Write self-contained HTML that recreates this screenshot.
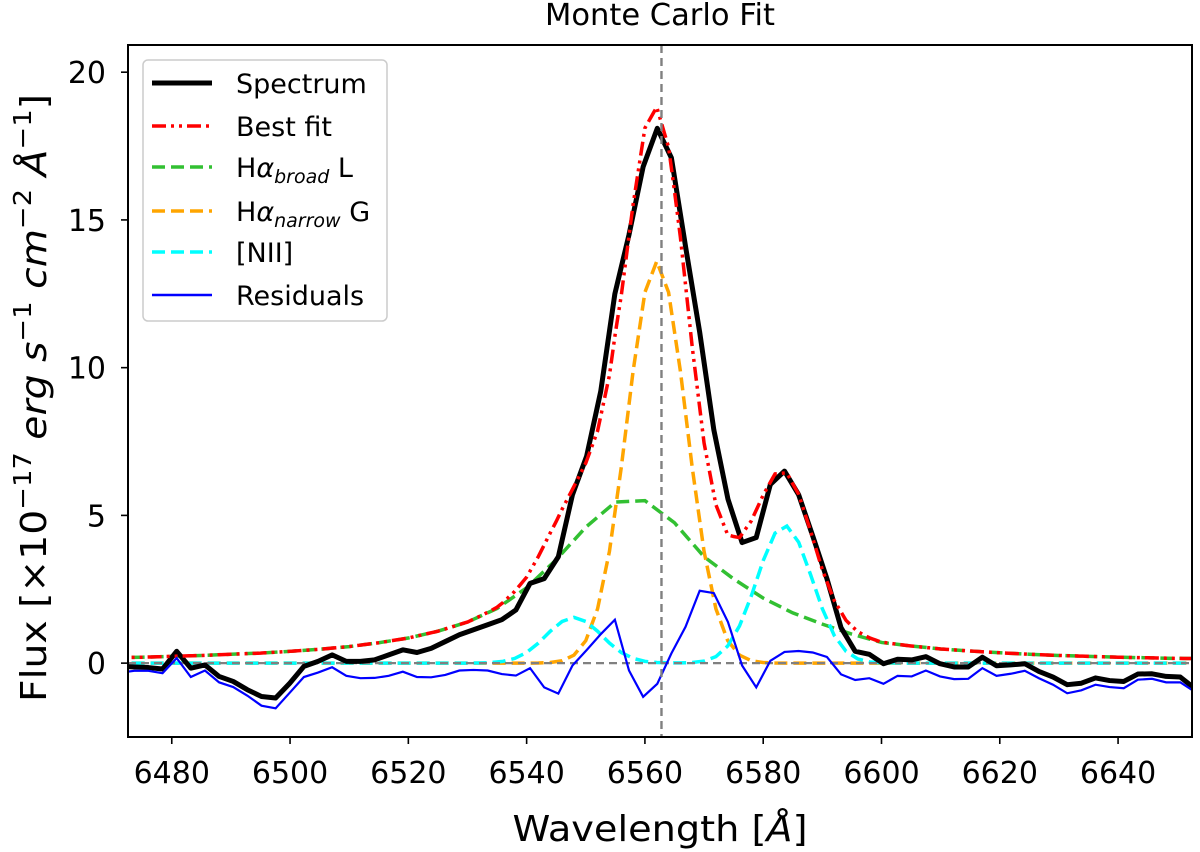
<!DOCTYPE html>
<html><head><meta charset="utf-8"><style>
html,body{margin:0;padding:0;background:#fff;}
svg{display:block;font-family:"DejaVu Sans","Liberation Sans",sans-serif;}
</style></head><body>
<svg id="chart" width="1200" height="852" viewBox="0 0 1200 852">
<text x="660" y="25" font-size="30" text-anchor="middle" textLength="230" lengthAdjust="spacingAndGlyphs">Monte Carlo Fit</text>
<defs><clipPath id="plotclip"><rect x="128" y="45" width="1064" height="692"/></clipPath></defs>
<g id="series" clip-path="url(#plotclip)"></g>
<rect x="128" y="45" width="1064" height="692" fill="none" stroke="#000" stroke-width="2"/>
<g id="xticks"></g>
<g id="yticks"></g>
<text x="660" y="841" font-size="36" text-anchor="middle" textLength="295" lengthAdjust="spacingAndGlyphs">Wavelength [<tspan font-style="italic">Å</tspan>]</text>
<text transform="translate(46,398) rotate(-90)" font-size="36" text-anchor="middle" textLength="608" lengthAdjust="spacingAndGlyphs">Flux [×10<tspan font-size="25" dy="-15">−17</tspan><tspan dy="15" font-style="italic"> erg s</tspan><tspan font-size="25" dy="-15">−1</tspan><tspan dy="15" font-style="italic"> cm</tspan><tspan font-size="25" dy="-15">−2</tspan><tspan dy="15" font-style="italic"> Å</tspan><tspan font-size="25" dy="-15">−1</tspan><tspan dy="15">]</tspan></text>
<g>
<rect x="143" y="60" width="244" height="261" rx="5" fill="#fff" fill-opacity="0.8" stroke="#ccc" stroke-width="1.5"/>
<g><line x1="152" y1="83" x2="212" y2="83" stroke="#000" stroke-width="5"/><text x="236" y="93" font-size="27">Spectrum</text></g>
<g><line x1="152" y1="126" x2="212" y2="126" stroke="#f00" stroke-width="3.5" stroke-dasharray="14,5,3,5,3,5"/><text x="236" y="136" font-size="27">Best fit</text></g>
<g><line x1="152" y1="167" x2="212" y2="167" stroke="#32c032" stroke-width="3.5" stroke-dasharray="13,6"/><text x="236" y="177" font-size="27">H<tspan font-style="italic">α</tspan><tspan font-size="19" font-style="italic" dy="6">broad</tspan><tspan dy="-6"> L</tspan></text></g>
<g><line x1="152" y1="211" x2="212" y2="211" stroke="#ffa500" stroke-width="3.5" stroke-dasharray="13,6"/><text x="236" y="221" font-size="27">H<tspan font-style="italic">α</tspan><tspan font-size="19" font-style="italic" dy="6">narrow</tspan><tspan dy="-6"> G</tspan></text></g>
<g><line x1="152" y1="252" x2="212" y2="252" stroke="#00ffff" stroke-width="3.5" stroke-dasharray="13,6"/><text x="236" y="262" font-size="27">[NII]</text></g>
<g><line x1="152" y1="295" x2="212" y2="295" stroke="#0000ff" stroke-width="2.5"/><text x="236" y="305" font-size="27">Residuals</text></g>
</g>
</svg>
<script>
// ---- data ----
const specStart = 6471.27;
const specStep = 2.39;
const spectrum = [-0.1,-0.13,-0.15,-0.2,0.4,-0.17,-0.06,-0.45,-0.62,-0.9,-1.13,-1.18,-0.68,-0.11,0.06,0.28,0.06,0.06,0.11,0.28,0.45,0.36,0.5,0.73,0.96,1.13,1.3,1.47,1.8,2.7,2.86,3.6,5.7,7.0,9.2,12.5,14.5,16.8,18.1,17.1,14.1,11.2,7.9,5.55,4.08,4.25,6.05,6.5,5.7,4.3,2.86,1.2,0.4,0.3,-0.02,0.13,0.11,0.22,-0.02,-0.13,-0.13,0.2,-0.09,-0.06,-0.02,-0.28,-0.47,-0.73,-0.68,-0.5,-0.59,-0.62,-0.37,-0.36,-0.45,-0.47,-0.85];
const residuals = [-0.32,-0.26,-0.26,-0.34,0.17,-0.47,-0.25,-0.65,-0.81,-1.1,-1.44,-1.53,-1.0,-0.47,-0.32,-0.14,-0.43,-0.51,-0.5,-0.43,-0.29,-0.47,-0.48,-0.4,-0.25,-0.23,-0.25,-0.37,-0.42,-0.17,-0.82,-1.03,-0.08,0.44,0.98,1.47,-0.25,-1.14,-0.7,0.33,1.23,2.45,2.37,1.39,-0.08,-0.82,0.08,0.38,0.41,0.36,0.21,-0.38,-0.57,-0.51,-0.7,-0.43,-0.45,-0.25,-0.45,-0.54,-0.53,-0.17,-0.43,-0.36,-0.26,-0.51,-0.73,-1.02,-0.92,-0.73,-0.81,-0.85,-0.56,-0.53,-0.65,-0.65,-0.96];
const broadWl = [6470,6475,6480,6485,6490,6495,6500,6505,6510,6515,6520,6525,6530,6535,6540,6545,6550,6555,6560,6565,6570,6575,6580,6585,6590,6595,6600,6605,6610,6615,6620,6625,6630,6635,6640,6645,6650,6655];
const broadVal = [0.18,0.2,0.23,0.26,0.3,0.34,0.4,0.47,0.56,0.69,0.85,1.08,1.39,1.85,2.55,3.5,4.6,5.45,5.5,4.75,3.6,2.85,2.2,1.7,1.32,0.98,0.7,0.58,0.48,0.41,0.35,0.3,0.26,0.23,0.2,0.18,0.16,0.15];
const narrowWl = [6470,6536,6540,6542,6544,6546,6548,6550,6552,6554,6556,6558,6560,6562,6564,6566,6568,6570,6572,6574,6576,6578,6580,6582,6584,6588,6655];
const narrowVal = [0,0,0,0.005,0.02,0.08,0.27,0.76,1.84,3.78,6.62,9.88,12.55,13.6,12.55,9.88,6.62,3.78,1.84,0.76,0.27,0.08,0.02,0.005,0,0,0];
const niiWl = [6470,6530,6532,6534,6536,6538,6540,6542,6544,6546,6548,6550,6552,6554,6556,6558,6560,6562,6564,6566,6568,6570,6572,6574,6576,6578,6580,6582,6584,6586,6588,6590,6592,6594,6596,6598,6600,6604,6655];
const niiVal = [0,0,0.005,0.02,0.06,0.16,0.36,0.68,1.08,1.41,1.55,1.41,1.08,0.68,0.36,0.16,0.06,0.02,0.01,0.01,0.02,0.07,0.22,0.58,1.26,2.28,3.47,4.4,4.64,4.09,3.0,1.84,0.94,0.4,0.14,0.04,0.01,0,0];
const xTicks = [6480,6500,6520,6540,6560,6580,6600,6620,6640];
const yTicks = [0,5,10,15,20];
const halphaCenter = 6562.8;

// ---- axes ----
const X0=128, X1=1192, Y0=45, Y1=737;
const xMin=6472.6, xMax=6652.5, yMin=-2.5, yMax=20.92;
function xs(v){return X0+(v-xMin)/(xMax-xMin)*(X1-X0);}
function ys(v){return Y1-(v-yMin)/(yMax-yMin)*(Y1-Y0);}
const NS="http://www.w3.org/2000/svg";
const g=document.getElementById('series');
function mk(tag,attrs,parent){const e=document.createElementNS(NS,tag);for(const k in attrs)e.setAttribute(k,attrs[k]);parent.appendChild(e);return e;}
function interp(wl,val,x){if(x<=wl[0])return val[0];for(let i=1;i<wl.length;i++){if(x<=wl[i]){const t=(x-wl[i-1])/(wl[i]-wl[i-1]);return val[i-1]+t*(val[i]-val[i-1]);}}return val[val.length-1];}
function pathFrom(wl,val){return wl.map((w,i)=>(i?'L':'M')+xs(w).toFixed(2)+','+ys(val[i]).toFixed(2)).join(' ');}

const xt=document.getElementById('xticks');
xTicks.forEach(t=>{
  const l=mk('line',{x1:xs(t),x2:xs(t),y1:Y1,y2:Y1+7,stroke:'#000','stroke-width':1.6},xt);
  
  
  const tx=mk('text',{x:xs(t),y:Y1+46,'font-size':30,'text-anchor':'middle'},xt);
  tx.textContent=t;
  
  
});
const yt=document.getElementById('yticks');
yTicks.forEach(t=>{
  const l=mk('line',{x1:X0-7,x2:X0,y1:ys(t),y2:ys(t),stroke:'#000','stroke-width':1.6},yt);
  
  
  const tx=mk('text',{x:X0-22,y:ys(t)+11,'font-size':30,'text-anchor':'end'},yt);
  tx.textContent=t;
  
  
});

const specWl=spectrum.map((v,i)=>specStart+i*specStep);

const pb=mk('path',{d:pathFrom(broadWl,broadVal),fill:'none',stroke:'#32c032','stroke-width':3.5,'stroke-dasharray':'13,6'},g);


const pn=mk('path',{d:pathFrom(narrowWl,narrowVal),fill:'none',stroke:'#ffa500','stroke-width':3.5,'stroke-dasharray':'13,6'},g);


const pc=mk('path',{d:pathFrom(niiWl,niiVal),fill:'none',stroke:'#00ffff','stroke-width':3.5,'stroke-dasharray':'13,6'},g);



const z=mk('line',{x1:X0,x2:X1,y1:ys(0),y2:ys(0),stroke:'#808080','stroke-width':2.2,'stroke-dasharray':'8,5'},g);



const ps=mk('path',{d:pathFrom(specWl,spectrum),fill:'none',stroke:'#000','stroke-width':5,'stroke-linejoin':'round'},g);



const fitWl=[];for(let w=6470;w<=6655;w+=0.5)fitWl.push(w);
const fitVal=fitWl.map(w=>interp(broadWl,broadVal,w)+interp(narrowWl,narrowVal,w)+interp(niiWl,niiVal,w));
const pf=mk('path',{d:pathFrom(fitWl,fitVal),fill:'none',stroke:'#f00','stroke-width':3.5,'stroke-dasharray':'14,5,3,5,3,5'},g);



const pr=mk('path',{d:pathFrom(specWl,residuals),fill:'none',stroke:'#0000ff','stroke-width':2.2},g);



const v=mk('line',{x1:xs(halphaCenter),x2:xs(halphaCenter),y1:Y0,y2:Y1,stroke:'#808080','stroke-width':2.4,'stroke-dasharray':'8,5'},g);


</script>
</body></html>
